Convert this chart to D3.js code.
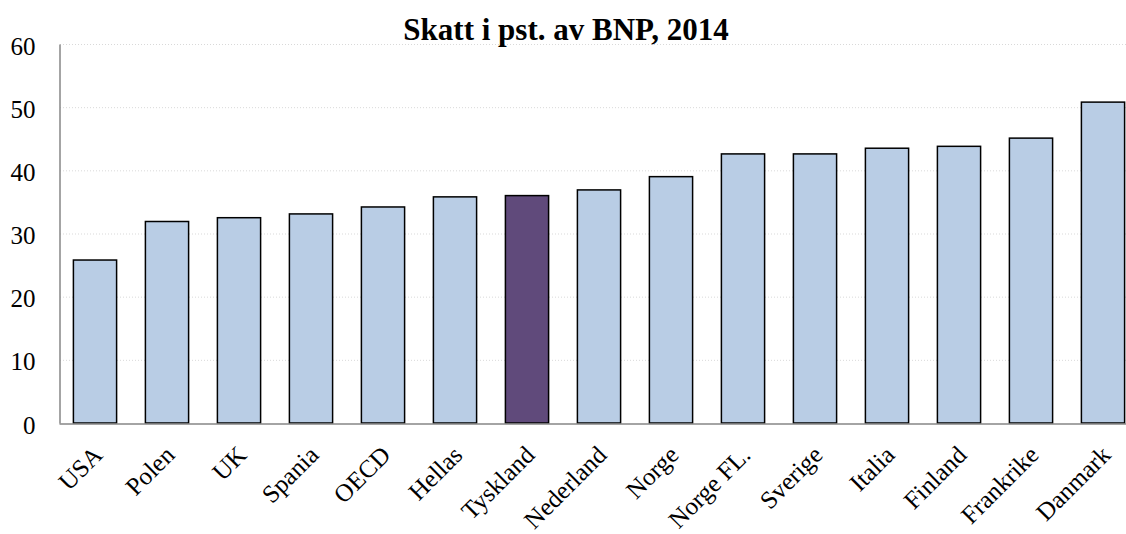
<!DOCTYPE html>
<html>
<head>
<meta charset="utf-8">
<script src="https://cdn.jsdelivr.net/npm/d3@7"></script>
<style>
  body { margin: 0; background: #fff; }
  svg { display: block; font-family: "Liberation Serif", "Times New Roman", serif; }
</style>
</head>
<body>
<div id="chart"></div>
<script>
// data
var countries = ["USA", "Polen", "UK", "Spania", "OECD", "Hellas", "Tyskland", "Nederland",
                 "Norge", "Norge FL.", "Sverige", "Italia", "Finland", "Frankrike", "Danmark"];
var taxShare = [25.8, 31.9, 32.5, 33.1, 34.2, 35.8, 36.0, 36.9, 39.0, 42.6, 42.6, 43.5, 43.8, 45.1, 50.8];
var highlighted = ["Tyskland"];
var yTicks = [0, 10, 20, 30, 40, 50, 60];

var w = 1126, h = 534;
var svg = d3.select("#chart").append("svg")
            .attr("width", w)
            .attr("height", h);

var x = d3.scaleBand()
          .domain(countries)
          .range([59, 1139])
          .paddingInner(0.4)
          .paddingOuter(0.2);
var y = d3.scaleLinear().domain([0, 60]).range([423, 44]);

// dotted gridlines
svg.append("g")
   .selectAll("line")
   .data(yTicks.filter(d => d > 0))
   .enter()
   .append("line")
   .attr("x1", 60)
   .attr("x2", w)
   .attr("y1", d => y(d) + 0.5)
   .attr("y2", d => y(d) + 0.5)
   .attr("stroke", "#d9d9d9")
   .attr("stroke-width", 1)
   .attr("stroke-dasharray", "1,2");

// bars
svg.append("g")
   .selectAll("rect")
   .data(countries)
   .enter()
   .append("rect")
   .attr("x", d => x(d))
   .attr("y", (d, i) => y(taxShare[i]))
   .attr("width", x.bandwidth())
   .attr("height", (d, i) => y(0) - y(taxShare[i]))
   .attr("fill", d => highlighted.includes(d) ? "#604a7b" : "#b9cde5")
   .attr("stroke", "#000")
   .attr("stroke-width", 1.5);

// y axis
var yAxis = svg.append("g")
               .attr("transform", "translate(59.5,0)")
               .call(d3.axisLeft(y).tickValues(yTicks).tickSize(0).tickPadding(24));
yAxis.select(".domain").attr("stroke", "#868686").attr("stroke-width", 1.5);
yAxis.selectAll("text")
     .attr("font-family", "Liberation Serif, Times New Roman, serif")
     .attr("font-size", "25px")
     .attr("dy", "0.4em")
     .attr("fill", "#000");

// x axis
var xAxis = svg.append("g")
               .attr("transform", "translate(0," + (y(0) + 0.5) + ")")
               .call(d3.axisBottom(x).tickSize(0).tickPadding(0));
xAxis.select(".domain").attr("stroke", "#868686").attr("stroke-width", 1.5);
xAxis.selectAll("text")
     .attr("font-family", "Liberation Serif, Times New Roman, serif")
     .attr("font-size", "25px")
     .attr("fill", "#000")
     .attr("text-anchor", "end")
     .attr("dy", "0")
     .attr("transform", "translate(9,33) rotate(-45)");

// title
svg.append("text")
   .text("Skatt i pst. av BNP, 2014")
   .attr("x", 566)
   .attr("y", 40)
   .attr("text-anchor", "middle")
   .attr("font-family", "Liberation Serif, Times New Roman, serif")
   .attr("font-weight", "bold")
   .attr("font-size", "31px")
   .attr("fill", "#000");
</script>
</body>
</html>
